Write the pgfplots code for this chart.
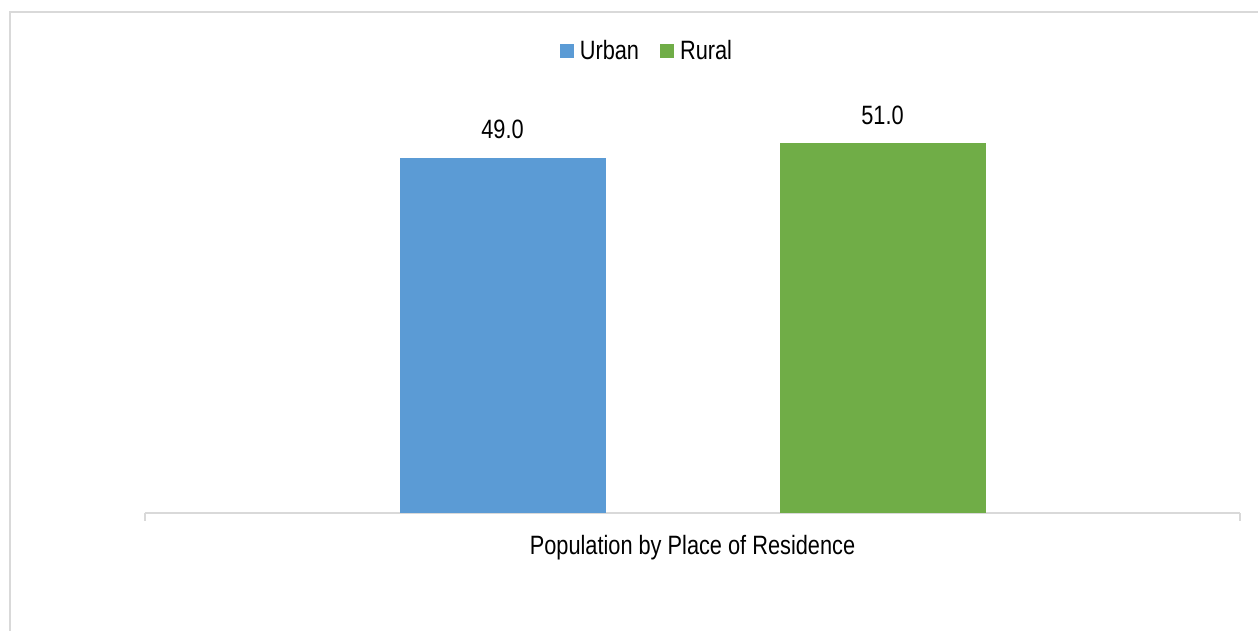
\documentclass[border=0pt]{standalone}
\usepackage{fontspec}
\setmainfont{Liberation Sans}[FakeStretch=0.82]
\usepackage{pgfplots}
\pgfplotsset{compat=1.18}
\definecolor{urban}{RGB}{91,155,213}
\definecolor{rural}{RGB}{112,173,71}
\definecolor{framegray}{RGB}{217,217,217}
\newcommand{\chartfont}{\fontsize{19.9}{23}\selectfont}
\begin{document}
\begin{tikzpicture}
\begin{axis}[
 at={(0,0)}, anchor=south west,
 scale only axis, width=821.25pt, height=326.25pt,
 xmin=-547.5, xmax=547.5, ymin=0, ymax=60,
 enlargelimits=false,
 axis x line=bottom, axis y line=none,
 x axis line style={draw=framegray, line width=1.5pt, -},
 xtick={-547.5,547.5}, xticklabels={},
 tick align=outside, major tick length=6pt,
 x tick style={draw=framegray, line width=1.5pt},
 ytick=\empty,
 ybar, bar width=154.5pt,
 font=\chartfont,
 /pgf/number format/assume math mode=true,
 nodes near coords={\pgfmathprintnumber[fixed,fixed zerofill,precision=1]{\pgfplotspointmeta}},
 every node near coord/.append style={anchor=base, yshift=14.25pt, font=\chartfont, text=black},
 legend columns=2,
 legend style={at={(0.4575,1.062)}, anchor=center, draw=none, fill=none,
   font=\chartfont, nodes={inner sep=0pt},
   /tikz/every odd column/.append style={column sep=4.5pt},
   /tikz/every even column/.append style={column sep=15.75pt}},
 legend image code/.code={\fill[#1, draw=none] (0pt,-5.25pt) rectangle (10.5pt,5.25pt);},
 clip=false,
]
\addplot[fill=urban, draw=none, bar shift=-142.5pt] coordinates {(0,49.0)};
\addplot[fill=rural, draw=none, bar shift=142.5pt] coordinates {(0,51.0)};
\legend{Urban, Rural}
\node[anchor=base, font=\chartfont, inner sep=0pt] at (axis cs:0,0) [yshift=-31.5pt] {Population by Place of Residence};
\end{axis}
\draw[framegray, line width=1.5pt] (-101.25pt,-100pt) |- (850pt,375.75pt);
\pgfresetboundingbox
\useasboundingbox (-108.75pt,-88.5pt) rectangle (834.75pt,384.75pt);
\end{tikzpicture}
\end{document}
